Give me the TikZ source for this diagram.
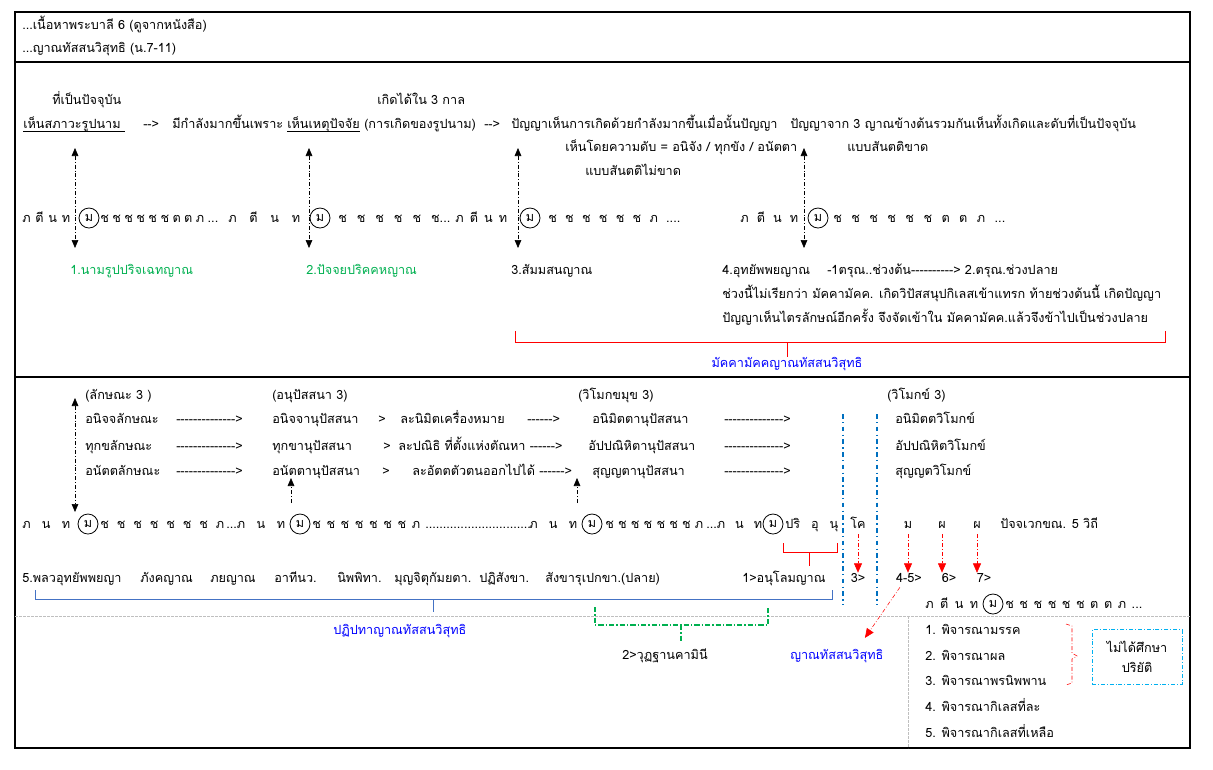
\documentclass[tikz,border=0pt]{standalone}
\usepackage{fontspec}
\setmainfont[Script=Thai,Ligatures=TeXOff]{Loma}
\usetikzlibrary{arrows.meta}
\newlength\pxu
\setlength\pxu{0.75pt}
\newcommand\spreadrow[2]{\makebox[#1\pxu][s]{#2}}
\definecolor{lblgreen}{RGB}{0,176,80}
\definecolor{bracketblue}{RGB}{68,114,196}
\definecolor{lineblue}{RGB}{0,112,192}
\definecolor{boxcyan}{RGB}{0,176,240}
\tikzset{
    thai-text/.style = {anchor=base west, inner sep=0pt, font=\fontsize{9.5}{11}\selectfont},
    green-label/.style = {thai-text, text=lblgreen},
    blue-label/.style = {thai-text, text=blue},
    circ-m/.style = {draw, circle, semithick, inner sep=0pt, minimum size=15pt, font=\fontsize{9.5}{11}\selectfont},
    dash-dot/.style = {dash pattern=on 3pt off 1.5pt on 0.6pt off 1.5pt},
    tip-both/.style = {dash-dot, {Triangle[width=5pt,length=6pt]}-{Triangle[width=5pt,length=6pt]}},
    tip-up/.style = {dash-dot, -{Triangle[width=5pt,length=6pt]}},
    red-tip/.style = {red, dash-dot, -{Triangle[width=6pt,length=7pt]}},
    grey-rule/.style = {black!25, dash pattern=on 2pt off 1pt},
    blue-rule/.style = {lineblue, line width=1.1pt, dash pattern=on 3.5pt off 2.5pt on 1pt off 2.5pt},
    green-rule/.style = {draw=lblgreen, line width=0.9pt, dash pattern=on 4pt off 1.5pt on 1pt off 1.5pt},
}

\begin{document}
\begin{tikzpicture}[x=0.75pt, y=-0.75pt]
\useasboundingbox (0,0) rectangle (1213,769);
% frame
\draw[line width=0.9pt] (15,12) rectangle (1190,748);
\draw[line width=0.9pt] (15,62) -- (1190,62);
\draw[line width=0.9pt] (15,377) -- (1190,377);

% header
\node[thai-text] (hdr-a) at (22,29) {...เนื้อหาพระบาลี 6 (ดูจากหนังสือ)};
\node[thai-text] (hdr-b) at (22,52) {...ญาณทัสสนวิสุทธิ (น.7-11)};

% first part
\node[thai-text] (now) at (52,104) {ที่เป็นปัจจุบัน};
\node[thai-text] (three-times) at (377,104) {เกิดได้ใน 3 กาล};
\node[thai-text] (see-nama) at (23,128) {เห็นสภาวะรูปนาม};
\draw (see-nama.base west) ++(0,3) -- ++(102,0);
\node[thai-text] (to-a) at (143,128) {-->};
\node[thai-text] (stronger) at (172,128) {มีกำลังมากขึ้นเพราะ};
\node[thai-text] (see-cause) at (287,128) {เห็นเหตุปัจจัย};
\draw (see-cause.base west) ++(0,3) -- ++(73,0);
\node[thai-text] (arising) at (364,128) {(การเกิดของรูปนาม)};
\node[thai-text] (to-b) at (484,128) {-->};
\node[thai-text] (wisdom-a) at (511,128) {ปัญญาเห็นการเกิดด้วยกำลังมากขึ้นเมื่อนั้นปัญญา};
\node[thai-text] (wisdom-b) at (790,128) {ปัญญาจาก 3 ญาณข้างต้นรวมกันเห็นทั้งเกิดและดับที่เป็นปัจจุบัน};
\node[thai-text] (by-cease) at (565,151) {เห็นโดยความดับ = อนิจัง / ทุกขัง / อนัตตา};
\node[thai-text] (broken) at (847,151) {แบบสันตติขาด};
\node[thai-text] (unbroken) at (585,175) {แบบสันตติไม่ขาด};

% first vithi row
\node[thai-text] (va-1) at (22,222) {\spreadrow{48}{ภ ตี น ท}};
\node[circ-m] (ma-1) at (89,218) {ม};
\node[thai-text] (va-2) at (100,222) {\spreadrow{118}{ช ช ช ช ช ช ต ต ภ ...}};
\node[thai-text] (va-3) at (228,222) {\spreadrow{72}{ภ ตี น ท}};
\node[circ-m] (ma-2) at (320,218) {ม};
\node[thai-text] (va-4) at (338,222) {\spreadrow{112}{ช ช ช ช ช ช...}};
\node[thai-text] (va-5) at (455,222) {\spreadrow{52}{ภ ตี น ท}};
\node[circ-m] (ma-3) at (530,218) {ม};
\node[thai-text] (va-6) at (548,222) {\spreadrow{132}{ช ช ช ช ช ช ภ ....}};
\node[thai-text] (va-7) at (740,222) {\spreadrow{58}{ภ ตี น ท}};
\node[circ-m] (ma-4) at (818,218) {ม};
\node[thai-text] (va-8) at (833,222) {\spreadrow{172}{ช ช ช ช ช ช ต ต ภ ...}};

\coordinate (up-1) at (75,148);  \coordinate (dn-1) at (75,248);
\coordinate (up-2) at (309,148); \coordinate (dn-2) at (309,248);
\coordinate (up-3) at (518,148); \coordinate (dn-3) at (518,248);
\coordinate (up-4) at (804,148); \coordinate (dn-4) at (804,248);
\draw[tip-both] (up-1) -- (dn-1);
\draw[tip-both] (up-2) -- (dn-2);
\draw[tip-both] (up-3) -- (dn-3);
\draw[tip-both] (up-4) -- (dn-4);

\node[green-label] (nana-1) at (70,274) {1.นามรูปปริจเฉทญาณ};
\node[green-label] (nana-2) at (306,274) {2.ปัจจยปริคคหญาณ};
\node[thai-text] (nana-3) at (511,274) {3.สัมมสนญาณ};
\node[thai-text] (nana-4) at (722,274) {4.อุทยัพพยญาณ};
\node[thai-text] (tarun) at (827,274) {-1ตรุณ..ช่วงต้น----------> 2.ตรุณ.ช่วงปลาย};
\node[thai-text] (note-a) at (722,298) {ช่วงนี้ไม่เรียกว่า มัคคามัคค. เกิดวิปัสสนุปกิเลสเข้าแทรก ท้ายช่วงต้นนี้ เกิดปัญญา};
\node[thai-text] (note-b) at (722,322) {ปัญญาเห็นไตรลักษณ์อีกครั้ง จึงจัดเข้าใน มัคคามัคค.แล้วจึงข้าไปเป็นช่วงปลาย};
\node[blue-label, anchor=base] (magga) at (787,367) {มัคคามัคคญาณทัสสนวิสุทธิ};
\draw[red] (515,331) -- (515,342) -- (1165,342) -- (1165,331);
\draw[red] (787,342) -- (magga.north);

% second part
\node[thai-text] (head-a) at (85,399) {(ลักษณะ 3 )};
\node[thai-text] (head-b) at (272,399) {(อนุปัสสนา 3)};
\node[thai-text] (head-c) at (578,399) {(วิโมกขมุข 3)};
\node[thai-text] (head-d) at (887,399) {(วิโมกข์ 3)};

\node[thai-text] (lak-1) at (85,423) {อนิจจลักษณะ};
\node[thai-text] (lak-2) at (85,450) {ทุกขลักษณะ};
\node[thai-text] (lak-3) at (85,475) {อนัตตลักษณะ};
\node[thai-text] (dash-1) at (176,423) {-------------->};
\node[thai-text] (dash-2) at (176,450) {-------------->};
\node[thai-text] (dash-3) at (176,475) {-------------->};
\node[thai-text] (anu-1) at (272,423) {อนิจจานุปัสสนา};
\node[thai-text] (anu-2) at (272,450) {ทุกขานุปัสสนา};
\node[thai-text] (anu-3) at (272,475) {อนัตตานุปัสสนา};
\node[thai-text] (gt-1) at (378,423) {>};
\node[thai-text] (gt-2) at (383,450) {>};
\node[thai-text] (gt-3) at (382,475) {>};
\node[thai-text] (drop-1) at (400,423) {ละนิมิตเครื่องหมาย};
\node[thai-text] (to-c) at (527,423) {------>};
\node[thai-text] (drop-2) at (398,450) {ละปณิธิ ที่ตั้งแห่งตัณหา ------>};
\node[thai-text] (drop-3) at (412,475) {ละอัตตตัวตนออกไปได้ ------>};
\node[thai-text] (mukha-1) at (592,423) {อนิมิตตานุปัสสนา};
\node[thai-text] (mukha-2) at (588,450) {อัปปณิหิตานุปัสสนา};
\node[thai-text] (mukha-3) at (592,475) {สุญญตานุปัสสนา};
\node[thai-text] (dash-4) at (724,423) {-------------->};
\node[thai-text] (dash-5) at (724,450) {-------------->};
\node[thai-text] (dash-6) at (724,475) {-------------->};
\node[thai-text] (vim-1) at (895,423) {อนิมิตตวิโมกข์};
\node[thai-text] (vim-2) at (895,450) {อัปปณิหิตวิโมกข์};
\node[thai-text] (vim-3) at (895,475) {สุญญตวิโมกข์};

% second vithi row
\node[thai-text] (vb-1) at (22,528) {\spreadrow{48}{ภ น ท}};
\node[circ-m] (mb-1) at (88,524) {ม};
\node[thai-text] (vb-2) at (100,528) {\spreadrow{124}{ช ช ช ช ช ช ช ภ}};
\node[thai-text] (vb-3) at (226,528) {\spreadrow{59}{...ภ น ท}};
\node[circ-m] (mb-2) at (300,524) {ม};
\node[thai-text] (vb-4) at (312,528) {\spreadrow{108}{ช ช ช ช ช ช ช ภ}};
\node[thai-text] (vb-5) at (425,528) {..............................};
\node[thai-text] (vb-6) at (529,528) {\spreadrow{48}{ภ น ท}};
\node[circ-m] (mb-3) at (592,524) {ม};
\node[thai-text] (vb-7) at (605,528) {\spreadrow{98}{ช ช ช ช ช ช ช ภ}};
\node[thai-text] (vb-8) at (706,528) {\spreadrow{56}{...ภ น ท}};
\node[circ-m] (mb-4) at (773,524) {ม};
\node[thai-text] (vb-9) at (785,528) {\spreadrow{53}{ปริ อุ นุ}};
\node[thai-text, anchor=base] (k-go) at (858,528) {โค};
\node[thai-text, anchor=base] (k-ma) at (908,528) {ม};
\node[thai-text, anchor=base] (k-pha-1) at (942,528) {ผ};
\node[thai-text, anchor=base] (k-pha-2) at (977,528) {ผ};
\node[thai-text] (review) at (1000,528) {ปัจจเวกขณ. 5 วิถี};

\coordinate (up-5) at (75,398);  \coordinate (dn-5) at (75,512);
\coordinate (up-6) at (291,478); \coordinate (dn-6) at (291,503);
\coordinate (up-7) at (577,478); \coordinate (dn-7) at (577,503);
\draw[tip-both] (up-5) -- (dn-5);
\draw[tip-up] (dn-6) -- (up-6);
\draw[tip-up] (dn-7) -- (up-7);
\draw[blue-rule] (843,414) -- (843,605);
\draw[blue-rule] (877,414) -- (877,605);

\node[thai-text] (st-a) at (22,582) {5.พลวอุทยัพพยญา};
\node[thai-text] (st-b) at (140,582) {ภังคญาณ};
\node[thai-text] (st-c) at (210,582) {ภยญาณ};
\node[thai-text] (st-d) at (274,582) {อาทีนว.};
\node[thai-text] (st-e) at (337,582) {นิพพิทา.};
\node[thai-text] (st-f) at (394,582) {มุญจิตุกัมยตา.};
\node[thai-text] (st-g) at (479,582) {ปฏิสังขา.};
\node[thai-text] (st-h) at (545,582) {สังขารุเปกขา.(ปลาย)};
\node[thai-text] (anuloma) at (742,582) {1>อนุโลมญาณ};
\node[thai-text, anchor=base] (st-3) at (858,582) {3>};
\node[thai-text, anchor=base] (st-45) at (909,582) {4-5>};
\node[thai-text, anchor=base] (st-6) at (949,582) {6>};
\node[thai-text, anchor=base] (st-7) at (984,582) {7>};
\draw[red-tip] (k-go.south) ++(0,6) -- (k-go.south |- st-3.north);
\draw[red-tip] (k-ma.south) ++(0,6) -- (k-ma.south |- st-45.north);
\draw[red-tip] (k-pha-1.south) ++(0,6) -- (k-pha-1.south |- st-6.north);
\draw[red-tip] (k-pha-2.south) ++(0,6) -- (k-pha-2.south |- st-7.north);
\draw[red] (783,543) -- (783,552) -- (837,552) -- (837,543);
\draw[red] (809,552) -- (809,566);

\draw[bracketblue] (35,590) -- (35,599) -- (832,599) -- (832,590);
\node[blue-label] (patipada) at (333,634) {ปฏิปทาญาณทัสสนวิสุทธิ};
\draw[bracketblue] (433,599) -- (433,612);

\node[thai-text] (vc-1) at (925,608) {\spreadrow{53}{ภ ตี น ท}};
\node[circ-m] (mc-1) at (993,604) {ม};
\node[thai-text] (vc-2) at (1005,608) {\spreadrow{137}{ช ช ช ช ช ช ต ต ภ ...}};

% lower part
\draw[grey-rule] (15,616) -- (1190,616);
\draw[grey-rule] (908,616) -- (908,748);
\node[thai-text] (vutthana) at (622,659) {2>วุฏฐานคามินี};
\draw[green-rule] (595,607) -- (595,625) -- (768,625) -- (768,607);
\draw[green-rule] (681,625) -- (681,642);
\node[blue-label] (dassana) at (790,659) {ญาณทัสสนวิสุทธิ};
\draw[red-tip] (st-45.south west) ++(4,5) -- ([xshift=-14pt,yshift=8pt]dassana.north east);

\node[thai-text] (pj-1) at (925,634) {1. พิจารณามรรค};
\node[thai-text] (pj-2) at (925,660) {2. พิจารณาผล};
\node[thai-text] (pj-3) at (925,685) {3. พิจารณาพรนิพพาน};
\node[thai-text] (pj-4) at (925,711) {4. พิจารณากิเลสที่ละ};
\node[thai-text] (pj-5) at (925,737) {5. พิจารณากิเลสที่เหลือ};
\draw[red, dash-dot] (1066,624) -- (1072,626) -- (1072,653) -- (1077,656) -- (1072,659) -- (1072,683) -- (1066,685);
\node[draw=boxcyan, dash-dot, minimum width=67.5pt, minimum height=41pt, align=center,
      font=\fontsize{9.5}{15}\selectfont] (no-study) at (1137,657) {ไม่ได้ศึกษา\\ปริยัติ};
\end{tikzpicture}
\end{document}
